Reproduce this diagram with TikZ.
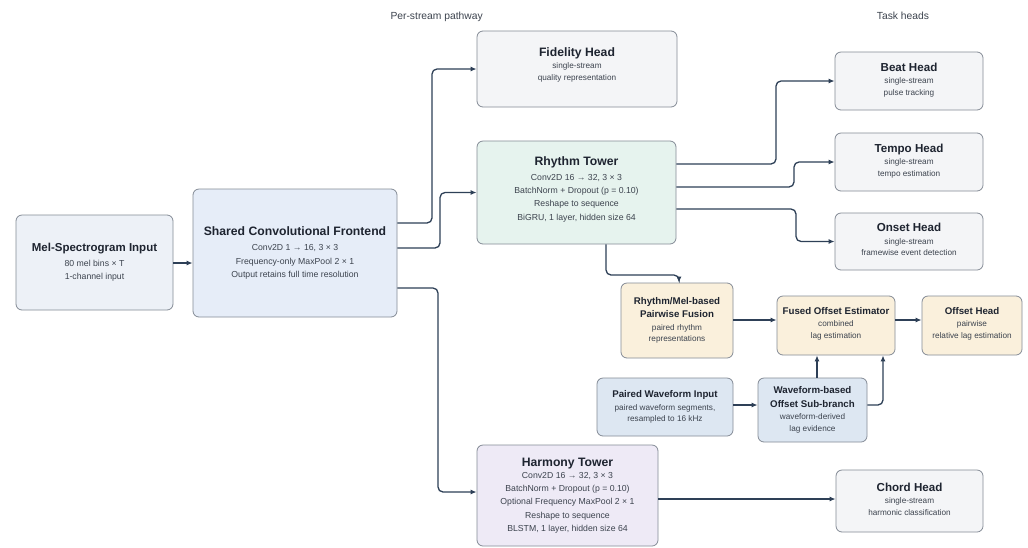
\documentclass[tikz,border=0pt]{standalone}
\usepackage{fontspec}
\setmainfont{Liberation Sans}
\usetikzlibrary{arrows.meta}
\definecolor{bordc}{HTML}{848B96}
\definecolor{arrc}{HTML}{2E4057}
\definecolor{titc}{HTML}{1E2430}
\definecolor{subc}{HTML}{3C434E}
\definecolor{melc}{HTML}{EDF1F7}
\definecolor{frontc}{HTML}{E6EDF8}
\definecolor{grayc}{HTML}{F4F5F7}
\definecolor{rhyc}{HTML}{E6F3EE}
\definecolor{creamc}{HTML}{FAF0DC}
\definecolor{wavec}{HTML}{DDE7F2}
\definecolor{harmc}{HTML}{EEEAF6}
\newcommand\bigt[1]{{\fontsize{12.2}{14}\selectfont\bfseries\color{titc}#1}}
\newcommand\headt[1]{{\fontsize{11.6}{14}\selectfont\bfseries\color{titc}#1}}
\newcommand\midt[1]{{\fontsize{11.5}{14}\selectfont\bfseries\color{titc}#1}}
\newcommand\smt[1]{{\fontsize{9.7}{12}\selectfont\bfseries\color{titc}#1}}
\newcommand\dn[1]{\rule[-#1]{0pt}{0pt}}
\begin{document}
\begin{tikzpicture}[x=1pt,y=-1pt,
  box/.style={draw=bordc, line width=0.8pt, rounded corners=6pt, align=center, inner sep=0pt, text=subc},
  bigf/.style={font=\fontsize{8.7}{13.3}\selectfont},
  headf/.style={font=\fontsize{8.2}{11.7}\selectfont},
  smf/.style={font=\fontsize{8.2}{11.5}\selectfont},
  conn/.style={draw=arrc, line width=1.3pt, rounded corners=5pt, -{Latex[length=6pt,width=5pt]}},
  lbl/.style={font=\fontsize{10.3}{12}\selectfont, text=subc}
]
\useasboundingbox (0,0) rectangle (1028,547);
\fill[white] (0,0) rectangle (1028,547);

\node[lbl, anchor=west] (lper) at (387,17) {Per-stream pathway};
\node[lbl] (ltask) at (903,16) {Task heads};

\node[box, bigf, fill=melc, minimum width=157, minimum height=95] (mel) at (94.5,262.5)
  {\midt{Mel-Spectrogram Input}\\[1pt] 80 mel bins × T\\ 1-channel input};
\node[box, bigf, fill=frontc, minimum width=204, minimum height=128] (front) at (295,253)
  {\bigt{Shared Convolutional Frontend}\\[2pt] Conv2D 1 → 16, 3 × 3\\ Frequency-only MaxPool 2 × 1\\ Output retains full time resolution};
\node[box, headf, fill=grayc, minimum width=200, minimum height=76] (fid) at (577,69)
  {\bigt{Fidelity Head}\\[1pt] single-stream\\ quality representation\dn{10pt}};
\node[box, bigf, fill=rhyc, minimum width=199, minimum height=103] (rhy) at (576.5,192.5)
  {\bigt{Rhythm Tower}\\[1pt] Conv2D 16 → 32, 3 × 3\\ BatchNorm + Dropout (p = 0.10)\\ Reshape to sequence\\ BiGRU, 1 layer, hidden size 64\dn{8pt}};
\node[box, bigf, fill=harmc, minimum width=181, minimum height=101] (harm) at (567.5,495.5)
  {\bigt{Harmony Tower}\\[-1pt] \fontsize{8.7}{12}\selectfont Conv2D 16 → 32, 3 × 3\\ BatchNorm + Dropout (p = 0.10)\\ Optional Frequency MaxPool 2 × 1\\ Reshape to sequence\\ BLSTM, 1 layer, hidden size 64};

\node[box, headf, fill=grayc, minimum width=148, minimum height=58] (beat) at (909,81)
  {\headt{Beat Head}\\[1pt] single-stream\\ pulse tracking\dn{4pt}};
\node[box, headf, fill=grayc, minimum width=148, minimum height=58] (tempo) at (909,162)
  {\headt{Tempo Head}\\[1pt] single-stream\\ tempo estimation\dn{4pt}};
\node[box, headf, fill=grayc, minimum width=148, minimum height=57] (onset) at (909,241.5)
  {\headt{Onset Head}\\[1pt] single-stream\\ framewise event detection\dn{4pt}};
\node[box, headf, fill=grayc, minimum width=147, minimum height=62] (chord) at (909.5,501)
  {\headt{Chord Head}\\[1pt] single-stream\\ harmonic classification\dn{4pt}};

\node[box, smf, fill=creamc, minimum width=112, minimum height=75] (fus) at (677,320.5)
  {\smt{Rhythm/Mel-based}\\[2pt] \smt{Pairwise Fusion}\\[1pt] paired rhythm\\ representations};
\node[box, smf, fill=creamc, minimum width=118, minimum height=59] (fused) at (836,325.5)
  {\smt{Fused Offset Estimator}\\[1pt] combined\\ lag estimation\dn{6pt}};
\node[box, smf, fill=creamc, minimum width=100, minimum height=59] (off) at (972,325.5)
  {\smt{Offset Head}\\[1pt] pairwise\\ relative lag estimation\dn{6pt}};
\node[box, smf, fill=wavec, minimum width=136, minimum height=58] (pair) at (665,407)
  {\smt{Paired Waveform Input}\\[1pt] paired waveform segments,\\ resampled to 16 kHz};
\node[box, smf, fill=wavec, minimum width=109, minimum height=64] (sub) at (812.5,410)
  {\smt{Waveform-based}\\[2pt] \smt{Offset Sub-branch}\\[1pt] waveform-derived\\ lag evidence};

% connectors
\draw[conn] (mel.east |- 0,263) -- (front.west |- 0,263);
\draw[conn] (front.east |- 0,223) -- (432,223) |- (fid.west);
\draw[conn] (front.east |- 0,248) -- (440,248) |- (rhy.west);
\draw[conn] (front.east |- 0,288) -- (438,288) |- (harm.west |- 0,492);
\draw[conn] (rhy.east |- 0,164) -- (776,164) |- (beat.west);
\draw[conn] (rhy.east |- 0,187) -- (794,187) |- (tempo.west);
\draw[conn] (rhy.east |- 0,209) -- (796,209) |- (onset.west);
\draw[conn] (rhy.south -| 606,0) -- (606,275) -| (fus.north -| 679,0);
\draw[conn] (fus.east |- 0,320) -- (fused.west |- 0,320);
\draw[conn] (fused.east |- 0,320) -- (off.west |- 0,320);
\draw[conn] (pair.east |- 0,405) -- (sub.west |- 0,405);
\draw[conn] (sub.north -| 817,0) -- (fused.south -| 817,0);
\draw[conn] (sub.east |- 0,405) -- (883,405) -- (fused.south -| 883,0);
\draw[conn] (harm.east |- 0,499) -- (chord.west |- 0,499);
\end{tikzpicture}
\end{document}
